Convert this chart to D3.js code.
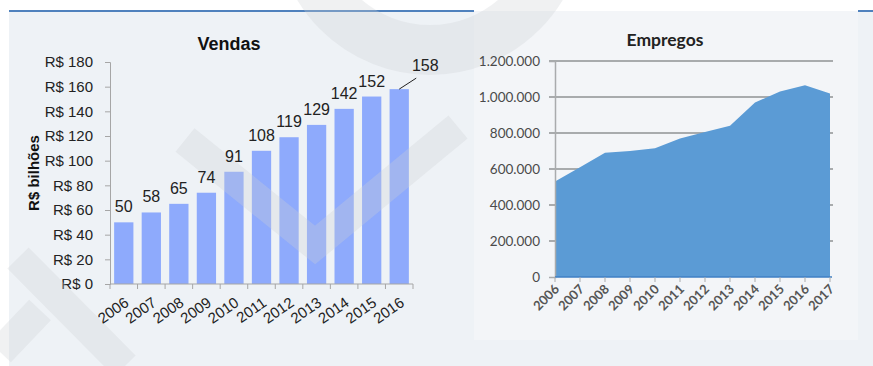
<!DOCTYPE html>
<html><head><meta charset="utf-8">
<script src="https://cdn.jsdelivr.net/npm/d3@7"></script>
<style>body{margin:0;background:#fff}svg{display:block}</style>
</head><body><svg id="c" width="873" height="366"></svg>
<script>
// ---- data ----
const salesYears = ["2006","2007","2008","2009","2010","2011","2012","2013","2014","2015","2016"];
const salesValues = [50,58,65,74,91,108,119,129,142,152,158];
const salesTicks = [0,20,40,60,80,100,120,140,160,180];
const jobYears = ["2006","2007","2008","2009","2010","2011","2012","2013","2014","2015","2016","2017"];
const jobValues = [530000,610000,690000,700000,715000,770000,805000,840000,970000,1030000,1065000,1020000];
const jobTicks = [0,200000,400000,600000,800000,1000000,1200000];

const svg = d3.select("#c");
// background panel
svg.append("rect").attr("x",9).attr("y",11).attr("width",864).attr("height",355).attr("fill","#eef2f6");
svg.append("rect").attr("x",474).attr("y",11).attr("width",384).attr("height",329).attr("fill","#f3f5f8");
svg.append("line").attr("x1",9).attr("x2",474).attr("y1",11).attr("y2",11).attr("stroke","#4f81bd").attr("stroke-width",2);
svg.append("line").attr("x1",858).attr("x2",873).attr("y1",11).attr("y2",11).attr("stroke","#4f81bd").attr("stroke-width",2);

// ---- left chart: Vendas ----
const L = svg.append("g").attr("font-family","Liberation Sans, Arial, sans-serif");
const x = d3.scaleBand().domain(salesYears).range([110,413]).paddingInner(0.3).paddingOuter(0.15);
const y = d3.scaleLinear().domain([0,180]).range([284,62]);

L.append("text").attr("x",229).attr("y",50).attr("text-anchor","middle")
  .attr("font-size",18).attr("font-weight","bold").attr("fill","#111").text("Vendas");
L.append("text").attr("transform","translate(39,173) rotate(-90)").attr("text-anchor","middle")
  .attr("font-size",15).attr("font-weight","bold").attr("fill","#111").text("R$ bilhões");

L.selectAll("rect.bar").data(salesValues).join("rect").attr("class","bar")
  .attr("x",(d,i)=>x(salesYears[i])).attr("width",x.bandwidth())
  .attr("y",d=>y(d)).attr("height",d=>y(0)-y(d)).attr("fill","#8eaafc");

const ya = L.append("g").attr("transform","translate(110,0)")
  .call(d3.axisLeft(y).tickValues(salesTicks).tickFormat(d=>"R$ "+d).tickSize(5).tickPadding(12));
ya.select(".domain").attr("stroke","#a6a6a6");
ya.selectAll(".tick line").attr("stroke","#a6a6a6");
ya.selectAll("text").attr("font-size",15).attr("fill","#222").attr("font-family","Liberation Sans, Arial, sans-serif");

// x axis line + boundary ticks
const step = x.step(), pad = step*x.paddingInner()/2;
L.append("line").attr("x1",110).attr("x2",413).attr("y1",y(0)).attr("y2",y(0)).attr("stroke","#a6a6a6");
const bounds = salesYears.map(d=>x(d)-pad).concat([x(salesYears[salesYears.length-1])+x.bandwidth()+pad]);
L.selectAll("line.xt").data(bounds).join("line").attr("class","xt")
  .attr("x1",d=>d).attr("x2",d=>d).attr("y1",y(0)).attr("y2",y(0)+5).attr("stroke","#a6a6a6");

// ---- right chart: Empregos ----
const R = svg.append("g").attr("font-family","Lato, Carlito, sans-serif");
const xj = d3.scalePoint().domain(jobYears).range([555,830]);
const yj = d3.scaleLinear().domain([0,1200000]).range([277,61]);
const loc = d3.formatLocale({decimal:",",thousands:".",grouping:[3],currency:["R$",""]});
const fmt = loc.format(",");

R.selectAll("line.grid").data(jobTicks.filter(d=>d>0)).join("line").attr("class","grid")
  .attr("x1",549).attr("x2",833).attr("y1",d=>yj(d)).attr("y2",d=>yj(d))
  .attr("stroke","#8f9295").attr("stroke-width",1.5);

R.append("path").datum(jobValues)
  .attr("d",d3.area().x((d,i)=>xj(jobYears[i])).y0(yj(0)).y1(d=>yj(d)))
  .attr("fill","#5b9bd5");

// ---- faint watermark (beneath text) ----
const W = svg.append("g").attr("fill","none").attr("stroke","rgb(205,207,211)").attr("stroke-opacity",0.3).attr("stroke-linecap","butt");
W.append("path").attr("d","M185,140 L315,245 L458,127").attr("stroke-width",30).attr("stroke-linejoin","miter");
W.append("path").attr("d","M18,258 L125,366").attr("stroke-width",30);
W.append("path").attr("d","M0,352 L40,310").attr("stroke-width",30);
W.append("circle").attr("cx",430).attr("cy",-80).attr("r",130).attr("stroke-width",50);

// ---- texts (left) ----
const LT = svg.append("g").attr("font-family","Liberation Sans, Arial, sans-serif");
LT.selectAll("text.xl").data(salesYears).join("text").attr("class","xl")
  .attr("transform",d=>`translate(${x(d)+x.bandwidth()/2+6},${y(0)+21}) rotate(-35)`)
  .attr("text-anchor","end").attr("font-size",15).attr("fill","#222").text(d=>d);
const last = salesValues.length-1;
LT.selectAll("text.vl").data(salesValues).join("text").attr("class","vl")
  .attr("x",(d,i)=> i===last ? x(salesYears[i])+x.bandwidth()/2+26 : x(salesYears[i])+x.bandwidth()/2)
  .attr("y",(d,i)=> i===last ? y(d)-18 : y(d)-10)
  .attr("text-anchor","middle").attr("font-size",16).attr("fill","#222").text(d=>d);
LT.append("line").attr("x1",x(salesYears[last])+x.bandwidth()/2).attr("y1",y(salesValues[last]))
  .attr("x2",x(salesYears[last])+x.bandwidth()/2+17).attr("y2",y(salesValues[last])-11)
  .attr("stroke","#222").attr("stroke-width",1);

// ---- texts/axes (right) ----
const RT = svg.append("g").attr("font-family","Lato, Carlito, sans-serif");
RT.append("text").attr("x",665).attr("y",46).attr("text-anchor","middle")
  .attr("font-size",17.5).attr("font-weight","bold").attr("fill","#222").text("Empregos");
const yja = RT.append("g").attr("transform","translate(555,0)")
  .call(d3.axisLeft(yj).tickValues(jobTicks).tickFormat(fmt).tickSize(6).tickPadding(9));
yja.select(".domain").attr("stroke","#a9abad").attr("stroke-width",1.5);
yja.selectAll(".tick line").attr("stroke","#a9abad");
yja.selectAll("text").attr("font-size",13.5).attr("fill","#4a4a4a").attr("font-family","Lato, Carlito, sans-serif");
RT.append("line").attr("x1",555).attr("x2",832).attr("y1",yj(0)).attr("y2",yj(0)).attr("stroke","#3f7fc4").attr("stroke-width",1.5);
RT.selectAll("line.xjt").data(jobYears).join("line").attr("class","xjt")
  .attr("x1",d=>xj(d)).attr("x2",d=>xj(d)).attr("y1",yj(0)).attr("y2",yj(0)+5).attr("stroke","#a9abad");
RT.selectAll("text.xjl").data(jobYears).join("text").attr("class","xjl")
  .attr("transform",d=>`translate(${xj(d)+5},${yj(0)+13}) rotate(-45)`)
  .attr("text-anchor","end").attr("font-size",13).attr("font-weight","bold").attr("fill","#555").text(d=>d);
</script></body></html>
